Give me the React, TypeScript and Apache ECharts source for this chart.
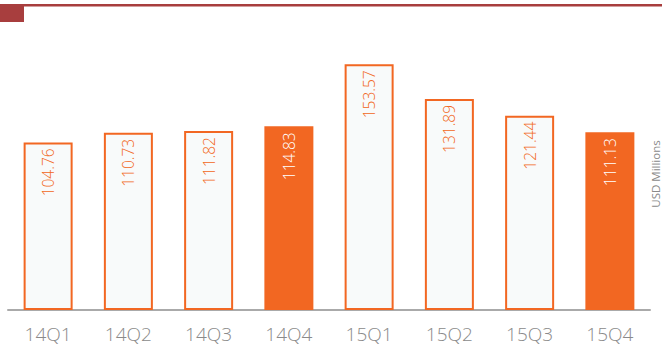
import React, { useEffect, useRef } from "react";
import * as echarts from "echarts";

const categories = ["14Q1", "14Q2", "14Q3", "14Q4", "15Q1", "15Q2", "15Q3", "15Q4"];
const revenue = [104.76, 110.73, 111.82, 114.83, 153.57, 131.89, 121.44, 111.13];
const filled = [false, false, false, true, false, false, false, true];
const unitLabel = "USD Millions";

const ORANGE = "#f26722";

export default function App() {
  const ref = useRef<HTMLDivElement>(null);
  useEffect(() => {
    if (!ref.current) return;
    const chart = echarts.init(ref.current, null, { renderer: "svg" });
    chart.setOption({
      animation: false,
      backgroundColor: "#ffffff",
      textStyle: { fontFamily: "Open Sans" },
      grid: { left: 8, right: 12, top: 54, bottom: 42 },
      xAxis: {
        type: "category",
        data: categories,
        axisLine: { lineStyle: { color: "#aaaaaa", width: 2 } },
        axisTick: { show: false },
        axisLabel: { color: "#8a8a8a", fontSize: 19, fontWeight: 300, margin: 14, fontFamily: "Open Sans" },
      },
      yAxis: {
        type: "value",
        min: 0,
        max: 160,
        show: false,
        splitLine: { show: false },
      },
      series: [
        {
          type: "bar",
          barWidth: 49,
          data: revenue.map((v, i) => ({
            value: v,
            itemStyle: filled[i]
              ? { color: ORANGE, borderWidth: 0 }
              : { color: "#f8fafa", borderColor: ORANGE, borderWidth: 2 },
            label: { color: filled[i] ? "#ffffff" : ORANGE },
          })),
          label: {
            show: true,
            position: "insideTop",
            rotate: 90,
            align: "right",
            verticalAlign: "middle",
            distance: 6,
            fontSize: 15.5,
            fontWeight: 300,
            fontFamily: "Open Sans",
            formatter: (p: any) => p.value.toFixed(2),
          },
        },
      ],
      graphic: [
        { type: "rect", shape: { x: 0, y: 4, width: 662, height: 2.5 }, style: { fill: "#a83e3e" } },
        { type: "rect", shape: { x: 0, y: 4, width: 24, height: 18 }, style: { fill: "#a83e3e" } },
        {
          type: "text",
          x: 655,
          y: 174,
          rotation: Math.PI / 2,
          style: {
            text: unitLabel,
            fill: "#8a8a8a",
            fontSize: 11.5,
            fontFamily: "Open Sans",
            align: "center",
            verticalAlign: "middle",
          },
        },
      ],
    });
    return () => chart.dispose();
  }, []);
  return (
    <div
      ref={ref}
      style={{ position: "absolute", left: 0, top: 0, width: 662, height: 352 }}
    />
  );
}
